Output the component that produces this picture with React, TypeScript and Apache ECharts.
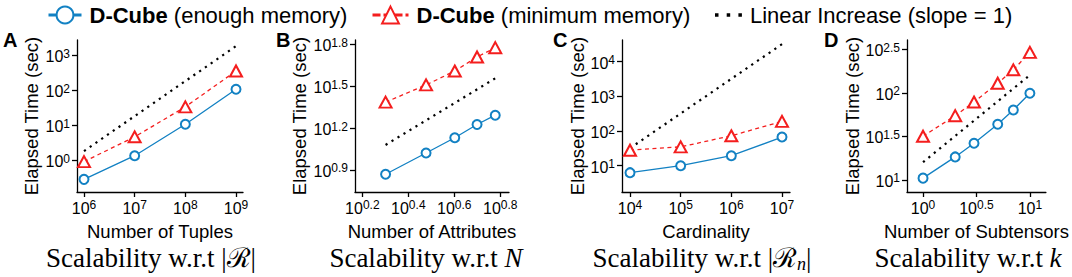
import React, { useEffect, useRef } from "react";
import * as echarts from "echarts";

// ---------- data ----------
const seriesNames = [
  "D-Cube (enough memory)",
  "D-Cube (minimum memory)",
  "Linear Increase (slope = 1)",
];

// Panel A: number of tuples
const tuplesX = [1e6, 1e7, 1e8, 1e9];
const tuplesEnough = [0.28, 1.33, 10.5, 105];
const tuplesMinimum = [0.9, 4.6, 33, 350];
const tuplesLinearX = [1e6, 1e9];
const tuplesLinear = [1.8, 1800];
const tuplesXTicks = [6, 7, 8, 9];
const tuplesYTicks = [0, 1, 2, 3];

// Panel B: number of attributes
const attrX = [2, 3, 4, 5, 6];
const attrEnough = [7.4, 10.5, 13.5, 16.8, 19.6];
const attrMinimum = [24.3, 32.3, 40.6, 51.2, 59.7];
const attrLinearX = [2, 6];
const attrLinear = [12, 36];
const attrXTicks = [0.2, 0.4, 0.6, 0.8];
const attrYTicks = [0.9, 1.2, 1.5, 1.8];

// Panel C: cardinality
const cardX = [1e4, 1e5, 1e6, 1e7];
const cardEnough = [6.3, 10, 19.4, 67];
const cardMinimum = [28, 35, 73, 190];
const cardLinearX = [1e4, 1e7];
const cardLinear = [32, 32000];
const cardXTicks = [4, 5, 6, 7];
const cardYTicks = [1, 2, 3, 4];

// Panel D: number of subtensors
const subX = [1, 2, 3, 5, 7, 10];
const subEnough = [10.5, 18.4, 26.4, 43.6, 63.6, 99];
const subMinimum = [31.8, 54.7, 78.5, 129, 184, 292];
const subLinearX = [1, 10];
const subLinear = [16, 160];
const subXTicks = [0, 0.5, 1];
const subYTicks = [1, 1.5, 2, 2.5];

const xTitles = ["Number of Tuples", "Number of Attributes", "Cardinality", "Number of Subtensors"];
const yTitle = "Elapsed Time (sec)";
const panelLetters = ["A", "B", "C", "D"];
const captions = [
  "{t|Scalability w.r.t |ℛ|}",
  "{t|Scalability w.r.t }{i|N}",
  "{t|Scalability w.r.t |ℛ}{n|n}{t||}",
  "{t|Scalability w.r.t }{i|k}",
];

// ---------- layout / style ----------
const SANS = "Liberation Sans, Arial, Helvetica, sans-serif";
const SERIF = "Liberation Serif, Times New Roman, serif";
const BLUE = "#1281c3";
const RED = "#f41e1e";

const panelData = [
  { x: tuplesX, e: tuplesEnough, m: tuplesMinimum, lx: tuplesLinearX, l: tuplesLinear, xt: tuplesXTicks, yt: tuplesYTicks },
  { x: attrX, e: attrEnough, m: attrMinimum, lx: attrLinearX, l: attrLinear, xt: attrXTicks, yt: attrYTicks },
  { x: cardX, e: cardEnough, m: cardMinimum, lx: cardLinearX, l: cardLinear, xt: cardXTicks, yt: cardYTicks },
  { x: subX, e: subEnough, m: subMinimum, lx: subLinearX, l: subLinear, xt: subXTicks, yt: subYTicks },
];

const panelLayout = [
  { left: 77, width: 166, xMin: 5.862, xMax: 9.138, yMin: -0.914, yMax: 3.43, nameGap: 36, letterX: 3, capX: 151 },
  { left: 355, width: 154, xMin: 0.168, xMax: 0.838, yMin: 0.742, yMax: 1.831, nameGap: 46, letterX: 276, capX: 426 },
  { left: 622, width: 168, xMin: 3.842, xMax: 7.158, yMin: 0.242, yMax: 4.625, nameGap: 35, letterX: 553, capX: 702 },
  { left: 907, width: 156, xMin: -0.15, xMax: 1.15, yMin: 0.862, yMax: 2.607, nameGap: 43, letterX: 824, capX: 968 },
];
const GRID_TOP = 40;
const GRID_H = 152;

const fmtExp = (v: number) => `{b|10}{s|${+v.toFixed(1)}}`;
const tickRich = {
  b: { fontSize: 16, lineHeight: 18, fontFamily: SANS, color: "#000" },
  s: { fontSize: 12, lineHeight: 12, fontFamily: SANS, color: "#000", verticalAlign: "top" },
};

const toLog = (xs: number[], ys: number[]) => xs.map((x, i) => [Math.log10(x), Math.log10(ys[i])]);

function buildOption() {
  const grid: any[] = [];
  const xAxis: any[] = [];
  const yAxis: any[] = [];
  const series: any[] = [];
  panelLayout.forEach((p, i) => {
    const d = panelData[i];
    grid.push({ left: p.left, top: GRID_TOP, width: p.width, height: GRID_H, containLabel: false });
    xAxis.push({
      type: "value",
      gridIndex: i,
      min: p.xMin,
      max: p.xMax,
      name: xTitles[i],
      nameLocation: "middle",
      nameGap: 30,
      nameTextStyle: { fontSize: 18.5, fontFamily: SANS, color: "#000" },
      axisLine: { show: true, onZero: false, lineStyle: { color: "#000", width: 1.3 } },
      axisTick: { show: true, length: 5, customValues: d.xt, lineStyle: { color: "#000", width: 1.3 } },
      axisLabel: { customValues: d.xt, formatter: fmtExp, rich: tickRich, margin: 7, color: "#000" },
      splitLine: { show: false },
    });
    yAxis.push({
      type: "value",
      gridIndex: i,
      min: p.yMin,
      max: p.yMax,
      name: yTitle,
      nameLocation: "middle",
      nameRotate: 90,
      nameGap: p.nameGap,
      nameTextStyle: { fontSize: 18.5, fontFamily: SANS, color: "#000" },
      axisLine: { show: true, onZero: false, lineStyle: { color: "#000", width: 1.3 } },
      axisTick: { show: true, length: 5, customValues: d.yt, lineStyle: { color: "#000", width: 1.3 } },
      axisLabel: { customValues: d.yt, formatter: fmtExp, rich: tickRich, margin: 7, color: "#000", padding: [3, 0, 0, 0] },
      splitLine: { show: false },
    });
    series.push({
      name: seriesNames[2],
      type: "line",
      xAxisIndex: i,
      yAxisIndex: i,
      data: toLog(d.lx, d.l),
      symbol: "none",
      lineStyle: { color: "#000", width: 2.2, type: [2.2, 4.8] },
      itemStyle: { color: "#000" },
      z: 1,
    });
    series.push({
      name: seriesNames[1],
      type: "line",
      xAxisIndex: i,
      yAxisIndex: i,
      data: toLog(d.x, d.m),
      symbol: "emptyTriangle",
      symbolSize: [12, 11],
      lineStyle: { color: RED, width: 1.3, type: [4, 3.5] },
      itemStyle: { color: RED, borderWidth: 1.8 },
      z: 3,
    });
    series.push({
      name: seriesNames[0],
      type: "line",
      xAxisIndex: i,
      yAxisIndex: i,
      data: toLog(d.x, d.e),
      symbol: "emptyCircle",
      symbolSize: 9,
      lineStyle: { color: BLUE, width: 1.3 },
      itemStyle: { color: BLUE, borderWidth: 1.8 },
      z: 3,
    });
  });

  const legendText = {
    fontFamily: SANS,
    color: "#000",
    padding: [0, 0, 0, 3],
    rich: {
      b: { fontSize: 22, fontWeight: "bold", fontFamily: SANS, color: "#000" },
      r: { fontSize: 22, fontFamily: SANS, color: "#000" },
    },
  };
  const legendFmt = (name: string) =>
    name.startsWith("D-Cube") ? `{b|D-Cube}{r| ${name.slice(7)}}` : `{r|${name}}`;
  const legend = [
    {
      data: [seriesNames[0]], left: 47, top: 4, padding: 0, itemWidth: 33, itemHeight: 21,
      textStyle: legendText, formatter: legendFmt,
      lineStyle: { width: 3 }, itemStyle: { borderWidth: 2.6 },
    },
    {
      data: [seriesNames[1]], left: 371, top: 4, padding: 0, itemWidth: 36, itemHeight: 21,
      textStyle: legendText, formatter: legendFmt,
      lineStyle: { width: 3, type: [8, 3] }, itemStyle: { borderWidth: 2.6 },
    },
    {
      data: [
        {
          name: seriesNames[2],
          icon: "path://M0,0h3.5v3.5h-3.5z M11.7,0h3.5v3.5h-3.5z M23.4,0h3.5v3.5h-3.5z",
        },
      ],
      left: 715, top: 4, padding: 0, itemWidth: 26.9, itemHeight: 3.5,
      textStyle: legendText, formatter: legendFmt,
      itemStyle: { color: "#000" },
    },
  ];

  const graphic: any[] = [];
  panelLayout.forEach((p, i) => {
    graphic.push({
      type: "text",
      x: p.letterX,
      y: 40,
      style: { text: panelLetters[i], fontFamily: SANS, fontWeight: "bold", fontSize: 20, fill: "#000", align: "left", verticalAlign: "middle" },
    });
    graphic.push({
      type: "text",
      x: p.capX,
      y: 258,
      style: {
        text: captions[i],
        align: "center",
        verticalAlign: "middle",
        rich: {
          t: { fontSize: 27, fontFamily: SERIF, fill: "#000", lineHeight: 30 },
          i: { fontSize: 27, fontFamily: SERIF, fontStyle: "italic", fill: "#000", lineHeight: 30 },
          n: { fontSize: 18, fontFamily: SERIF, fontStyle: "italic", fill: "#000", lineHeight: 12, verticalAlign: "bottom" },
        },
      },
    });
  });

  return { animation: false, backgroundColor: "#fff", grid, xAxis, yAxis, series, legend, graphic };
}

export default function App() {
  const ref = useRef<HTMLDivElement>(null);
  useEffect(() => {
    if (!ref.current) return;
    const chart = echarts.init(ref.current, undefined, { renderer: "svg" });
    chart.setOption(buildOption() as any);
    return () => chart.dispose();
  }, []);
  return <div ref={ref} style={{ position: "absolute", left: 0, top: 0, width: 1072, height: 277 }} />;
}
